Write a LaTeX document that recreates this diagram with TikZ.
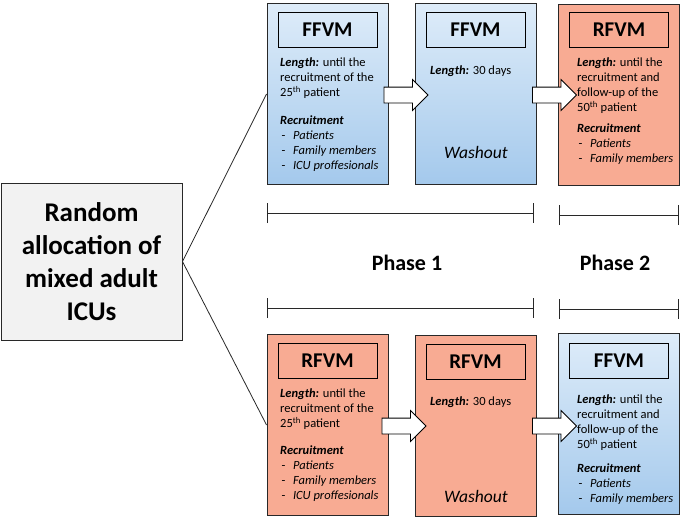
\documentclass[tikz,border=0pt]{standalone}
\usepackage{fontspec}
\setmainfont{Carlito}
\usepackage{tikz}
\usetikzlibrary{arrows.meta,positioning,shapes.arrows}

\definecolor{ffvmtop}{RGB}{222,236,249}
\definecolor{ffvmbottom}{RGB}{164,201,236}
\definecolor{rfvmfill}{RGB}{248,171,147}
\definecolor{randfill}{RGB}{242,242,242}
\definecolor{boxline}{RGB}{40,40,40}

\newcommand{\lenlabel}{\textbf{\textit{Length:}}}
\newcommand{\recrlabel}{\textbf{\textit{Recruitment}}}
\newcommand{\listitem}[1]{\hspace*{1.5pt}-\hspace{7.5pt}\textit{#1}}

\begin{document}
\begin{tikzpicture}
	[x=1pt, y=-1pt, inner sep=0pt,
	randbox/.style	= {rectangle, draw=boxline, fill=randfill, line width=0.9pt, minimum width=181pt, minimum height=157pt, align=center, font=\fontsize{27}{33}\selectfont\bfseries},
	phasebox/.style	= {rectangle, draw=boxline, line width=0.9pt, minimum width=121pt, minimum height=181pt},
	ffvmbox/.style	= {phasebox, top color=ffvmtop, bottom color=ffvmbottom},
	rfvmbox/.style	= {phasebox, fill=rfvmfill},
	titlebox/.style	= {rectangle, draw=black, line width=0.9pt, minimum width=99pt, minimum height=35pt, font=\fontsize{21}{25}\selectfont\bfseries},
	body/.style	= {anchor=north west, align=left, font=\fontsize{12.5}{15}\selectfont},
	washout/.style	= {font=\fontsize{17.5}{20}\selectfont\itshape},
	blockarrow/.style	= {single arrow, draw=black, fill=white, line width=0.8pt, inner xsep=0pt, inner ysep=7.5pt, minimum height=44pt, single arrow head extend=7.5pt},
	link/.style	= {draw=boxline, line width=0.8pt},
	phasebar/.style	= {arrows={Bar[width=20pt]-Bar[width=20pt]}, draw=boxline, line width=0.8pt},
	phaselabel/.style	= {font=\fontsize{22}{26}\selectfont\bfseries}]

	\useasboundingbox (0,0) rectangle (685,525);

	\node at (91.5, 261.5)	[randbox]	(alloc)	{Random\\allocation of\\mixed adult\\ICUs};

	% first sequence
	\node at (327.5, 94)	[ffvmbox]	(up1)	{};
	\node at (475.5, 94)	[ffvmbox]	(up2)	{};
	\node at (619, 95)		[rfvmbox]	(up3)	{};

	% second sequence
	\node at (327.5, 425)	[rfvmbox]	(lo1)	{};
	\node at (475.5, 426)	[rfvmbox]	(lo2)	{};
	\node at (619, 424)		[ffvmbox]	(lo3)	{};

	\node [titlebox, below=9pt of up1.north] (up1title) {FFVM};
	\node [titlebox, below=9pt of up2.north] (up2title) {FFVM};
	\node [titlebox, below=8pt of up3.north] (up3title) {RFVM};
	\node [titlebox, below=9pt of lo1.north] (lo1title) {RFVM};
	\node [titlebox, below=9pt of lo2.north] (lo2title) {RFVM};
	\node [titlebox, below=10pt of lo3.north] (lo3title) {FFVM};

	\node at (280, 58)	[body]	(up1text)	{\lenlabel{} until the\\recruitment of the\\25\textsuperscript{th} patient\\[12.7pt]\recrlabel\\\listitem{Patients}\\\listitem{Family members}\\\listitem{ICU proffesionals}};
	\node at (430, 66)	[body]	(up2text)	{\lenlabel{} 30 days};
	\node at (476, 152)	[washout]	(up2wash)	{Washout};
	\node at (577, 58)	[body]	(up3text)	{\lenlabel{} until the\\recruitment and\\follow-up of the\\50\textsuperscript{th} patient\\[6pt]\recrlabel\\\listitem{Patients}\\\listitem{Family members}};

	\node at (280, 389)	[body]	(lo1text)	{\lenlabel{} until the\\recruitment of the\\25\textsuperscript{th} patient\\[12pt]\recrlabel\\\listitem{Patients}\\\listitem{Family members}\\\listitem{ICU proffesionals}};
	\node at (430, 397)	[body]	(lo2text)	{\lenlabel{} 30 days};
	\node at (476, 496)	[washout]	(lo2wash)	{Washout};
	\node at (577, 395)	[body]	(lo3text)	{\lenlabel{} until the\\recruitment and\\follow-up of the\\50\textsuperscript{th} patient\\[9pt]\recrlabel\\\listitem{Patients}\\\listitem{Family members}};

	\node at (402, 95)		[blockarrow]	(up12)	{};
	\node at (550.5, 95)	[blockarrow]	(up23)	{};
	\node at (400, 426)		[blockarrow]	(lo12)	{};
	\node at (550.5, 426)	[blockarrow]	(lo23)	{};

	\draw [link] (alloc.east) -- (up1.west);
	\draw [link] (alloc.east) -- (lo1.west);

	% phase bars
	\coordinate (bar1a) at (267, 213);	\coordinate (bar1b) at (534, 213);
	\coordinate (bar2a) at (559, 215);	\coordinate (bar2b) at (679, 215);
	\coordinate (bar3a) at (267, 308);	\coordinate (bar3b) at (534, 308);
	\coordinate (bar4a) at (559, 309);	\coordinate (bar4b) at (679, 309);
	\draw [phasebar] (bar1a) -- (bar1b);
	\draw [phasebar] (bar2a) -- (bar2b);
	\draw [phasebar] (bar3a) -- (bar3b);
	\draw [phasebar] (bar4a) -- (bar4b);

	\node at (407, 263)	[phaselabel]	(phase1)	{Phase 1};
	\node at (615, 263)	[phaselabel]	(phase2)	{Phase 2};

\end{tikzpicture}
\end{document}
